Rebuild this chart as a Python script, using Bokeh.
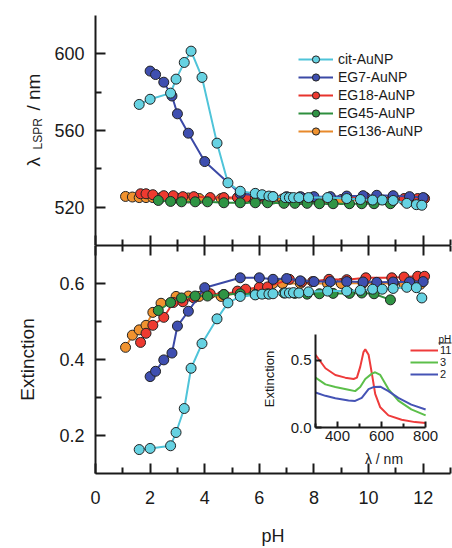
import math
from bokeh.plotting import figure
from bokeh.models import (Range1d, FixedTicker, LinearAxis, Legend, LegendItem,
                          Label, GridBox, BoxAnnotation)
from bokeh.embed import file_html
from bokeh.resources import INLINE

FONT = "Liberation Sans"
TXT = "#1a1a1a"

# ---------------- data ----------------
cit_ph = [1.6, 2.0, 2.75, 2.95, 3.25, 3.5, 3.9, 4.45, 4.85, 5.3, 5.85, 6.1, 6.35, 6.5,
          6.95, 7.1, 7.25, 7.45, 7.8, 8.5, 9.2, 9.7, 10.15, 10.5, 10.9, 11.4, 11.75, 11.95]
cit_lam = [573.6, 576.3, 579.5, 586.8, 595.5, 601.4, 587.7, 553.4, 532.7, 528.3, 527.2, 526.5,
           525.8, 525.5, 525, 525, 525, 525, 525, 525, 524.5, 524, 523.7, 523.7, 523.5, 522,
           521.3, 521]
cit_ext = [0.163, 0.166, 0.173, 0.208, 0.271, 0.377, 0.442, 0.507, 0.549, 0.566, 0.570, 0.572,
           0.572, 0.573, 0.575, 0.575, 0.576, 0.575, 0.578, 0.58, 0.58, 0.582, 0.585, 0.585,
           0.587, 0.59, 0.589, 0.562]

eg7_ph = [2.0, 2.2, 2.5, 2.8, 3.0, 3.4, 4.0, 5.3, 6.0, 6.5, 7.0, 7.5, 8.0, 8.6, 9.2, 9.8,
          10.3, 10.9, 11.5, 12.0]
eg7_lam = [591, 589.2, 585.2, 578, 568.7, 558.6, 543.8, 527, 526, 525.5, 525.5, 525.5, 525.5,
           525.5, 525.8, 526, 526.2, 526, 525.5, 525]
eg7_ext = [0.355, 0.369, 0.399, 0.417, 0.488, 0.527, 0.589, 0.615, 0.615, 0.611, 0.613, 0.607,
           0.605, 0.605, 0.605, 0.604, 0.603, 0.604, 0.604, 0.605]

eg18_ph = [1.65, 1.85, 2.1, 2.5, 2.85, 3.2, 3.6, 4.2, 4.7, 5.2, 5.5, 6.0, 6.3, 7.1, 7.55, 7.95,
           8.55, 9.2, 9.9, 10.85, 11.3, 11.8, 12.05]
eg18_lam = [527, 527, 526.5, 526, 526, 525.5, 525.5, 525, 525, 525, 525, 525, 525, 525, 525,
            525, 525, 525, 525, 524.5, 524.5, 524.5, 524.5]
eg18_ext = [0.445, 0.469, 0.49, 0.511, 0.55, 0.552, 0.562, 0.573, 0.571, 0.58, 0.585, 0.59,
            0.591, 0.611, 0.604, 0.605, 0.611, 0.61, 0.615, 0.615, 0.617, 0.619, 0.619]

eg45_ph = [2.3, 2.75, 3.15, 3.65, 4.1, 4.7, 5.3, 5.85, 6.3, 6.9, 7.3, 7.75, 8.2, 8.7, 9.3,
           9.75, 10.2, 10.8]
eg45_lam = [523.5, 523, 522.8, 522.8, 522.8, 522.3, 522.3, 522.3, 522.3, 522, 522, 522, 521.8,
            521.8, 521.8, 521.8, 521.8, 521.8]
eg45_ext = [0.529, 0.55, 0.562, 0.567, 0.567, 0.571, 0.573, 0.571, 0.573, 0.575, 0.574, 0.572,
            0.573, 0.574, 0.574, 0.575, 0.573, 0.557]

eg136_ph = [1.1, 1.35, 1.6, 1.85, 2.1, 2.4, 2.95, 3.4, 3.8, 4.6, 5.5, 6.5, 6.85, 7.5, 8.5, 9.0,
            9.8, 10.9, 11.3, 11.65, 11.9]
eg136_lam = [525.6, 525.3, 525, 525, 525, 525, 524.8, 524.8, 524.5, 524.5, 524.5, 524.3, 524.3,
             524, 524, 524, 523.8, 523.5, 523.5, 523.5, 523.5]
eg136_ext = [0.432, 0.464, 0.478, 0.49, 0.524, 0.548, 0.566, 0.567, 0.566, 0.566, 0.58, 0.6,
             0.6, 0.6, 0.6, 0.6, 0.601, 0.6, 0.598, 0.6, 0.598]

# inset spectra
red_nm = [300, 345, 390, 435, 473, 488, 503, 518, 526, 541, 556, 571, 594, 631, 691, 752, 800]
red_ext = [0.54, 0.44, 0.39, 0.37, 0.36, 0.37, 0.45, 0.56, 0.58, 0.54, 0.40, 0.25, 0.15, 0.09,
           0.058, 0.04, 0.033]
green_nm = [300, 345, 390, 450, 480, 503, 526, 556, 571, 594, 631, 676, 735, 800]
green_ext = [0.37, 0.32, 0.30, 0.28, 0.27, 0.30, 0.36, 0.40, 0.41, 0.39, 0.285, 0.20, 0.135, 0.09]
blue_nm = [300, 345, 390, 450, 480, 510, 541, 563, 594, 631, 676, 735, 800]
blue_ext = [0.26, 0.235, 0.217, 0.20, 0.197, 0.22, 0.285, 0.30, 0.303, 0.27, 0.22, 0.17, 0.134]

x_major = [0, 2, 4, 6, 8, 10, 12]
x_minor = [1, 3, 5, 7, 9, 11, 13]
lam_major = [520, 560, 600]
lam_minor = [540, 580]
ext_major = [0.2, 0.4, 0.6]
ext_minor = [0.3, 0.5]
inset_x_major = [400, 600, 800]
inset_x_minor = [300, 500, 700]
inset_y_major = [0.0, 0.5]

series = [
    ("EG136-AuNP", eg136_ph, eg136_lam, eg136_ext, "#e8892b", "#f0922f"),
    ("EG18-AuNP", eg18_ph, eg18_lam, eg18_ext, "#e8332c", "#ee3a30"),
    ("EG7-AuNP", eg7_ph, eg7_lam, eg7_ext, "#3b49a6", "#3f4fb0"),
    ("EG45-AuNP", eg45_ph, eg45_lam, eg45_ext, "#2e8f3e", "#2f9444"),
    ("cit-AuNP", cit_ph, cit_lam, cit_ext, "#4fc4d9", "#66d2e2"),
]
legend_order = ["cit-AuNP", "EG7-AuNP", "EG18-AuNP", "EG45-AuNP", "EG136-AuNP"]

x_range = Range1d(0, 13)


def style_ticks(ax, major_len=10, minor_len=6, lw=2):
    ax.axis_line_width = lw
    ax.axis_line_color = TXT
    ax.major_tick_line_width = lw
    ax.minor_tick_line_width = lw
    ax.major_tick_line_color = TXT
    ax.minor_tick_line_color = TXT
    ax.major_tick_in = major_len
    ax.major_tick_out = 0
    ax.minor_tick_in = minor_len
    ax.minor_tick_out = 0
    ax.major_label_text_font = FONT
    ax.major_label_text_color = TXT
    ax.axis_label_text_font = FONT
    ax.axis_label_text_color = TXT
    ax.axis_label_text_font_style = "normal"


def hide_labels(ax):
    ax.major_label_text_font_size = "0px"
    ax.major_label_text_color = None
    ax.major_label_standoff = 0


# ---------------- top panel ----------------
top = figure(width=452, height=245, x_range=x_range, y_range=Range1d(500, 620),
             output_backend="svg", toolbar_location=None, frame_align=False,
             min_border_left=95, min_border_right=2, min_border_top=15, min_border_bottom=0,
             outline_line_color=None, background_fill_color="white", border_fill_color="white")
top.grid.visible = False
top.xaxis.ticker = FixedTicker(ticks=x_major, minor_ticks=x_minor)
style_ticks(top.xaxis[0])
hide_labels(top.xaxis[0])
top.yaxis.ticker = FixedTicker(ticks=lam_major, minor_ticks=lam_minor)
style_ticks(top.yaxis[0])
top.yaxis.major_label_text_font_size = "18px"
top.yaxis.major_label_standoff = 11

# ---------------- bottom panel ----------------
bot = figure(width=452, height=303, x_range=x_range, y_range=Range1d(0.1, 0.7),
             output_backend="svg", toolbar_location=None, frame_align=False,
             min_border_left=95, min_border_right=2, min_border_top=0, min_border_bottom=72,
             outline_line_color=None, background_fill_color="white", border_fill_color="white")
bot.grid.visible = False
bot.xaxis.ticker = FixedTicker(ticks=x_major, minor_ticks=x_minor)
style_ticks(bot.xaxis[0])
bot.xaxis.major_label_text_font_size = "18px"
bot.xaxis.major_label_standoff = 17
bot.xaxis.axis_label = "pH"
bot.xaxis.axis_label_text_font_size = "18px"
bot.xaxis.axis_label_standoff = 19
bot.yaxis.ticker = FixedTicker(ticks=ext_major, minor_ticks=ext_minor)
style_ticks(bot.yaxis[0])
bot.yaxis.major_label_text_font_size = "18px"
bot.yaxis.major_label_standoff = 11
bot.yaxis.axis_label = "Extinction"
bot.yaxis.axis_label_text_font_size = "19px"
bot.yaxis.axis_label_standoff = 18

above = LinearAxis(ticker=FixedTicker(ticks=x_major, minor_ticks=x_minor))
style_ticks(above)
hide_labels(above)
bot.add_layout(above, "above")

items = {}
for name, xs, lam, ext, lc, fc in series:
    l1 = top.line(xs, lam, line_color=lc, line_width=2)
    s1 = top.scatter(xs, lam, size=10, fill_color=fc, line_color="#222222", line_width=1)
    bot.line(xs, ext, line_color=lc, line_width=2)
    bot.scatter(xs, ext, size=10, fill_color=fc, line_color="#222222", line_width=1)
    items[name] = [l1, s1]

legend = Legend(items=[LegendItem(label=n, renderers=items[n]) for n in legend_order],
                location=(203, 105), padding=0, margin=0, spacing=0,
                label_height=18, glyph_height=18, glyph_width=35, label_standoff=5,
                border_line_color=None, background_fill_alpha=0,
                label_text_font=FONT, label_text_font_size="14px", label_text_color=TXT)
top.add_layout(legend)

# ---------------- y-axis title of the top panel: lambda_LSPR / nm ----------------
lab = figure(width=52, height=245, x_range=Range1d(0, 1), y_range=Range1d(0, 1),
             output_backend="svg", toolbar_location=None, frame_align=False,
             x_axis_location=None, y_axis_location=None,
             min_border_left=0, min_border_right=0, min_border_top=0, min_border_bottom=0,
             outline_line_color=None, background_fill_color=None, border_fill_color=None)
lab.grid.visible = False
for txt, xx, yy, fs in [("λ", 33, 79, "19px"), ("LSPR", 37, 96, "12px"), ("/ nm", 33, 135, "19px")]:
    lab.add_layout(Label(x=xx, y=yy, x_units="screen", y_units="screen", text=txt,
                         angle=math.pi / 2, text_font=FONT, text_font_size=fs,
                         text_color=TXT, text_align="left", text_baseline="alphabetic"))

# ---------------- inset ----------------
ins = figure(width=194, height=142, x_range=Range1d(300, 922), y_range=Range1d(0, 0.72),
             output_backend="svg", toolbar_location=None, frame_align=False,
             min_border_left=55, min_border_right=0, min_border_top=2, min_border_bottom=43,
             outline_line_color=None, background_fill_color=None, border_fill_color=None)
ins.grid.visible = False
ins.xaxis.ticker = FixedTicker(ticks=inset_x_major, minor_ticks=inset_x_minor)
ins.xaxis.bounds = (300, 800)
style_ticks(ins.xaxis[0], major_len=6, minor_len=4, lw=2)
ins.xaxis.major_label_text_font_size = "15px"
ins.xaxis.major_label_standoff = 3
ins.xaxis.axis_label = "λ / nm"
ins.xaxis.axis_label_text_font_size = "14px"
ins.xaxis.axis_label_standoff = 7
ins.yaxis.ticker = FixedTicker(ticks=inset_y_major)
ins.yaxis.bounds = (0, 0.69)
ins.yaxis.major_label_overrides = {0: "0.0", 0.5: "0.5"}
style_ticks(ins.yaxis[0], major_len=6, minor_len=4, lw=2)
ins.yaxis.major_label_text_font_size = "15px"
ins.yaxis.major_label_standoff = 4
ins.yaxis.axis_label = "Extinction"
ins.yaxis.axis_label_text_font_size = "13px"
ins.yaxis.axis_label_standoff = 11

r11 = ins.line(red_nm, red_ext, line_color="#ee3b3b", line_width=2)
r3 = ins.line(green_nm, green_ext, line_color="#5cbf4a", line_width=2)
r2 = ins.line(blue_nm, blue_ext, line_color="#4553b5", line_width=2)
ileg = Legend(items=[LegendItem(label="11", renderers=[r11]),
                     LegendItem(label="3", renderers=[r3]),
                     LegendItem(label="2", renderers=[r2])],
              location=(95, 47), padding=0, margin=0, spacing=0,
              label_height=12, glyph_height=12, glyph_width=28, label_standoff=2,
              border_line_color=None, background_fill_alpha=0,
              label_text_font=FONT, label_text_font_size="11px", label_text_color=TXT)
ins.add_layout(ileg)
ins.add_layout(Label(x=123, y=88, x_units="screen", y_units="screen", text="pH",
                     text_font=FONT, text_font_size="10px", text_color=TXT,
                     text_align="left", text_baseline="alphabetic"))
ins.add_layout(BoxAnnotation(left=123, right=136, bottom=84, top=85,
                             left_units="screen", right_units="screen",
                             bottom_units="screen", top_units="screen",
                             fill_color=TXT, fill_alpha=1, line_color=None))

layout = GridBox(children=[(top, 0, 0, 1, 3), (lab, 0, 0, 1, 1),
                           (bot, 1, 0, 3, 3), (ins, 2, 2, 1, 1)],
                 rows=["245px", "83px", "142px", "78px"],
                 cols=["52px", "206px", "194px"], spacing=0)

open("out.html", "w").write(file_html(layout, INLINE))
